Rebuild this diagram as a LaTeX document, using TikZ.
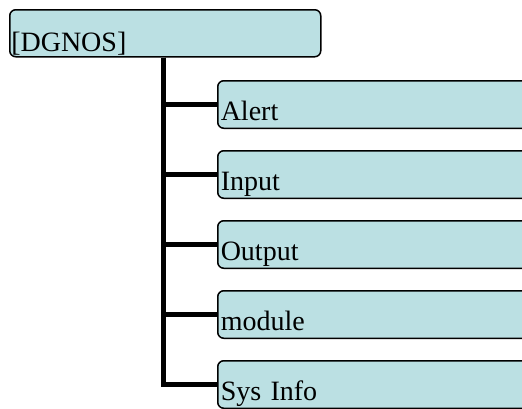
\documentclass[tikz,border=0pt]{standalone}
\usepackage{fontspec}
\setmainfont{Liberation Serif}
\definecolor{boxfill}{RGB}{187,224,227}
\begin{document}
\begin{tikzpicture}[x=1pt,y=-1pt,
  box/.style={draw=black,line width=1.5pt,fill=boxfill,rounded corners=6pt,
    anchor=north west,inner ysep=0pt,align=left,
    font=\fontsize{28}{30}\selectfont},
  rootbox/.style={box,inner xsep=1.5pt,text width=308pt,text height=42pt,text depth=5pt},
  leafbox/.style={box,inner xsep=3pt,text width=317pt,text height=39.5pt,text depth=8pt},
  conn/.style={line width=5pt}]
\clip (0,0) rectangle (522,408);
\fill[white] (0,0) rectangle (522,408);

\node[rootbox] (root) at (9,9) {[DGNOS]};

\node[leafbox] (alert)  at (217,80)  {Alert};
\node[leafbox] (input)  at (217,150) {Input};
\node[leafbox] (output) at (217,220) {Output};
\node[leafbox] (module) at (217,290) {module};
\node[leafbox] (sys)    at (217,360) {Sys Info};

\foreach \c in {alert,input,output,module,sys}
  \draw[conn] ([xshift=154pt]root.south west) |- (\c.west);
\end{tikzpicture}
\end{document}
